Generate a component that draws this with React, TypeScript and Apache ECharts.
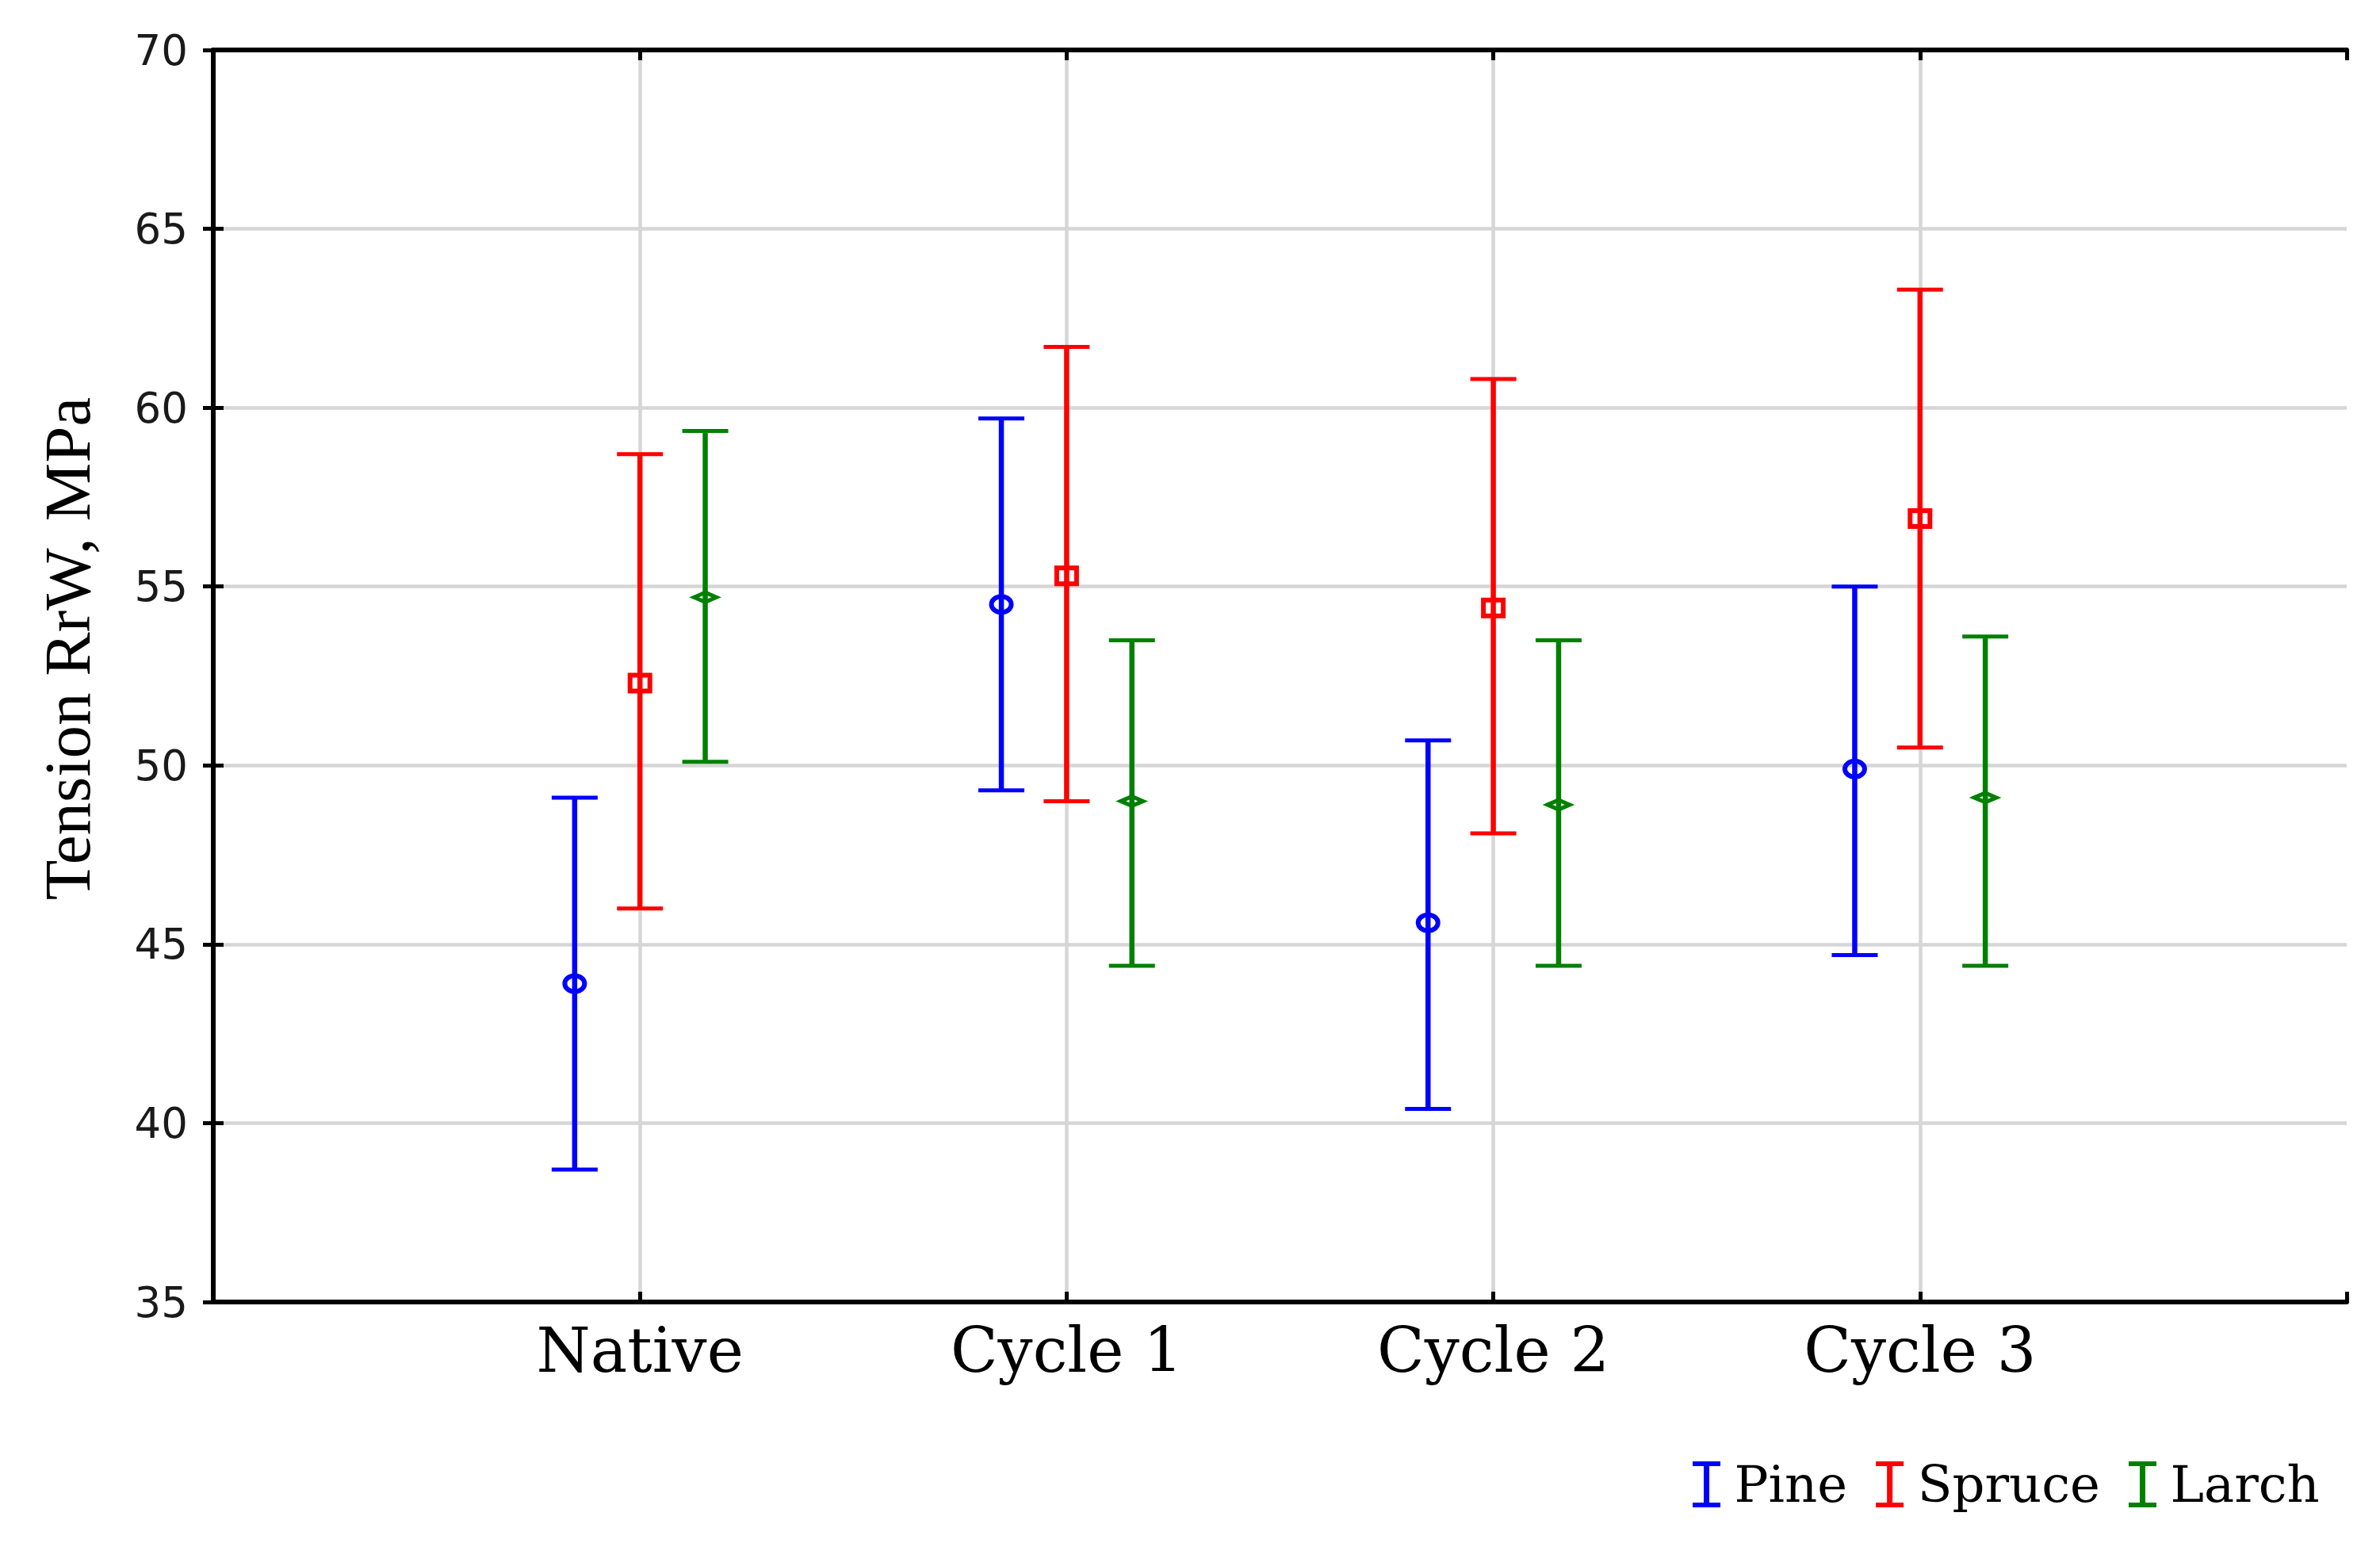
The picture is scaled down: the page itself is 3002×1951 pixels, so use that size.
import React, { useEffect, useRef } from "react";
import * as echarts from "echarts";

const categories = ["Native", "Cycle 1", "Cycle 2", "Cycle 3"];
const yTicks = { min: 35, max: 70, interval: 5 };

const pineLow = [38.7, 49.3, 40.4, 44.7];
const pineMean = [43.9, 54.5, 45.6, 49.9];
const pineHigh = [49.1, 59.7, 50.7, 55.0];

const spruceLow = [46.0, 49.0, 48.1, 50.5];
const spruceMean = [52.3, 55.3, 54.4, 56.9];
const spruceHigh = [58.7, 61.7, 60.8, 63.3];

const larchLow = [50.1, 44.4, 44.4, 44.4];
const larchMean = [54.7, 49.0, 48.9, 49.1];
const larchHigh = [59.35, 53.5, 53.5, 53.6];

const seriesNames = ["Pine", "Spruce", "Larch"];
const seriesColors = ["#0000ff", "#ff0000", "#008000"];
const groupOffsets = [-0.153, 0, 0.153];
const markerKinds = ["circle", "square", "diamond"];

const IBEAM =
  "path://M0,0 H35 V6 H21 V52 H35 V58 H0 V52 H14 V6 H0 Z";

function buildData(low: number[], mean: number[], high: number[]) {
  return categories.map((_, i) => [i + 1, low[i], mean[i], high[i]]);
}

const seriesData = [
  buildData(pineLow, pineMean, pineHigh),
  buildData(spruceLow, spruceMean, spruceHigh),
  buildData(larchLow, larchMean, larchHigh),
];

function makeRenderItem(idx: number) {
  const color = seriesColors[idx];
  const off = groupOffsets[idx];
  const kind = markerKinds[idx];
  return (params: any, api: any) => {
    const x = api.value(0) + off;
    const lo = api.coord([x, api.value(1)]);
    const mid = api.coord([x, api.value(2)]);
    const hi = api.coord([x, api.value(3)]);
    const cx = hi[0];
    const capHalf = 29;
    const children: any[] = [
      {
        type: "line",
        shape: { x1: cx, y1: hi[1], x2: cx, y2: lo[1] },
        style: { stroke: color, lineWidth: 6.5 },
      },
      {
        type: "line",
        shape: { x1: cx - capHalf, y1: hi[1], x2: cx + capHalf, y2: hi[1] },
        style: { stroke: color, lineWidth: 5 },
      },
      {
        type: "line",
        shape: { x1: cx - capHalf, y1: lo[1], x2: cx + capHalf, y2: lo[1] },
        style: { stroke: color, lineWidth: 5 },
      },
    ];
    if (kind === "circle") {
      children.push({
        type: "ellipse",
        shape: { cx, cy: mid[1], rx: 12.5, ry: 10 },
        style: { fill: "none", stroke: color, lineWidth: 6 },
      });
    } else if (kind === "square") {
      children.push({
        type: "rect",
        shape: { x: cx - 12.5, y: mid[1] - 10, width: 25, height: 20 },
        style: { fill: "none", stroke: color, lineWidth: 6 },
      });
    } else {
      children.push({
        type: "polygon",
        shape: {
          points: [
            [cx - 14, mid[1]],
            [cx, mid[1] - 6],
            [cx + 14, mid[1]],
            [cx, mid[1] + 6],
          ],
        },
        style: { fill: "none", stroke: color, lineWidth: 5 },
      });
    }
    return { type: "group", children };
  };
}

export default function App() {
  const ref = useRef<HTMLDivElement>(null);
  useEffect(() => {
    if (!ref.current) return;
    const chart = echarts.init(ref.current, undefined, { renderer: "svg" });
    const axisLine = { show: true, lineStyle: { color: "#000", width: 6 } };
    const axisTick = {
      show: true,
      inside: true,
      length: 13,
      lineStyle: { color: "#000", width: 5 },
    };
    const gridLine = { color: "#d6d6d6", width: 4.5 };
    const option: any = {
      animation: false,
      backgroundColor: "#ffffff",
      grid: { left: 269, top: 63, right: 42, bottom: 309, containLabel: false },
      xAxis: [
        {
          type: "value",
          min: 0,
          max: 5,
          interval: 1,
          position: "bottom",
          axisLine,
          axisTick,
          axisLabel: {
            show: true,
            margin: 22,
            fontFamily: "DejaVu Serif",
            fontSize: 78,
            color: "#000",
            formatter: (v: number) => categories[v - 1] ?? "",
          },
          splitLine: {
            show: true,
            showMinLine: false,
            showMaxLine: false,
            lineStyle: gridLine,
          },
        },
        {
          type: "value",
          min: 0,
          max: 5,
          interval: 1,
          position: "top",
          axisLine,
          axisTick,
          axisLabel: { show: false },
          splitLine: { show: false },
        },
      ],
      yAxis: [
        {
          type: "value",
          min: yTicks.min,
          max: yTicks.max,
          interval: yTicks.interval,
          position: "left",
          axisLine,
          axisTick,
          axisLabel: {
            margin: 32,
            fontFamily: "DejaVu Sans",
            fontSize: 53,
            color: "#1a1a1a",
          },
          splitLine: {
            show: true,
            showMinLine: false,
            showMaxLine: false,
            lineStyle: gridLine,
          },
        },
        {
          type: "value",
          min: yTicks.min,
          max: yTicks.max,
          interval: yTicks.interval,
          position: "right",
          axisLine,
          axisTick,
          axisLabel: { show: false },
          splitLine: { show: false },
        },
      ],
      legend: {
        left: 2135,
        top: 1840,
        padding: 0,
        orient: "horizontal",
        itemWidth: 60,
        itemHeight: 58,
        itemGap: 36,
        data: seriesNames.map((n) => ({ name: n, icon: IBEAM })),
        textStyle: {
          fontFamily: "DejaVu Serif",
          fontSize: 64,
          color: "#000",
        },
      },
      graphic: [
        {
          type: "text",
          x: 85,
          y: 818,
          rotation: Math.PI / 2,
          style: {
            text: "Tension RrW, MPa",
            fontFamily: "Liberation Serif",
            fontSize: 83,
            fill: "#000",
            align: "center",
            verticalAlign: "middle",
          },
        },
      ],
      series: seriesNames.map((name, idx) => ({
        type: "custom",
        name,
        xAxisIndex: 0,
        yAxisIndex: 0,
        itemStyle: { color: seriesColors[idx] },
        encode: { x: 0, y: [1, 2, 3] },
        data: seriesData[idx],
        renderItem: makeRenderItem(idx),
        z: 5,
      })),
    };
    chart.setOption(option);
    return () => chart.dispose();
  }, []);
  return (
    <div
      ref={ref}
      style={{ position: "fixed", left: 0, top: 0, width: 3002, height: 1951 }}
    />
  );
}
